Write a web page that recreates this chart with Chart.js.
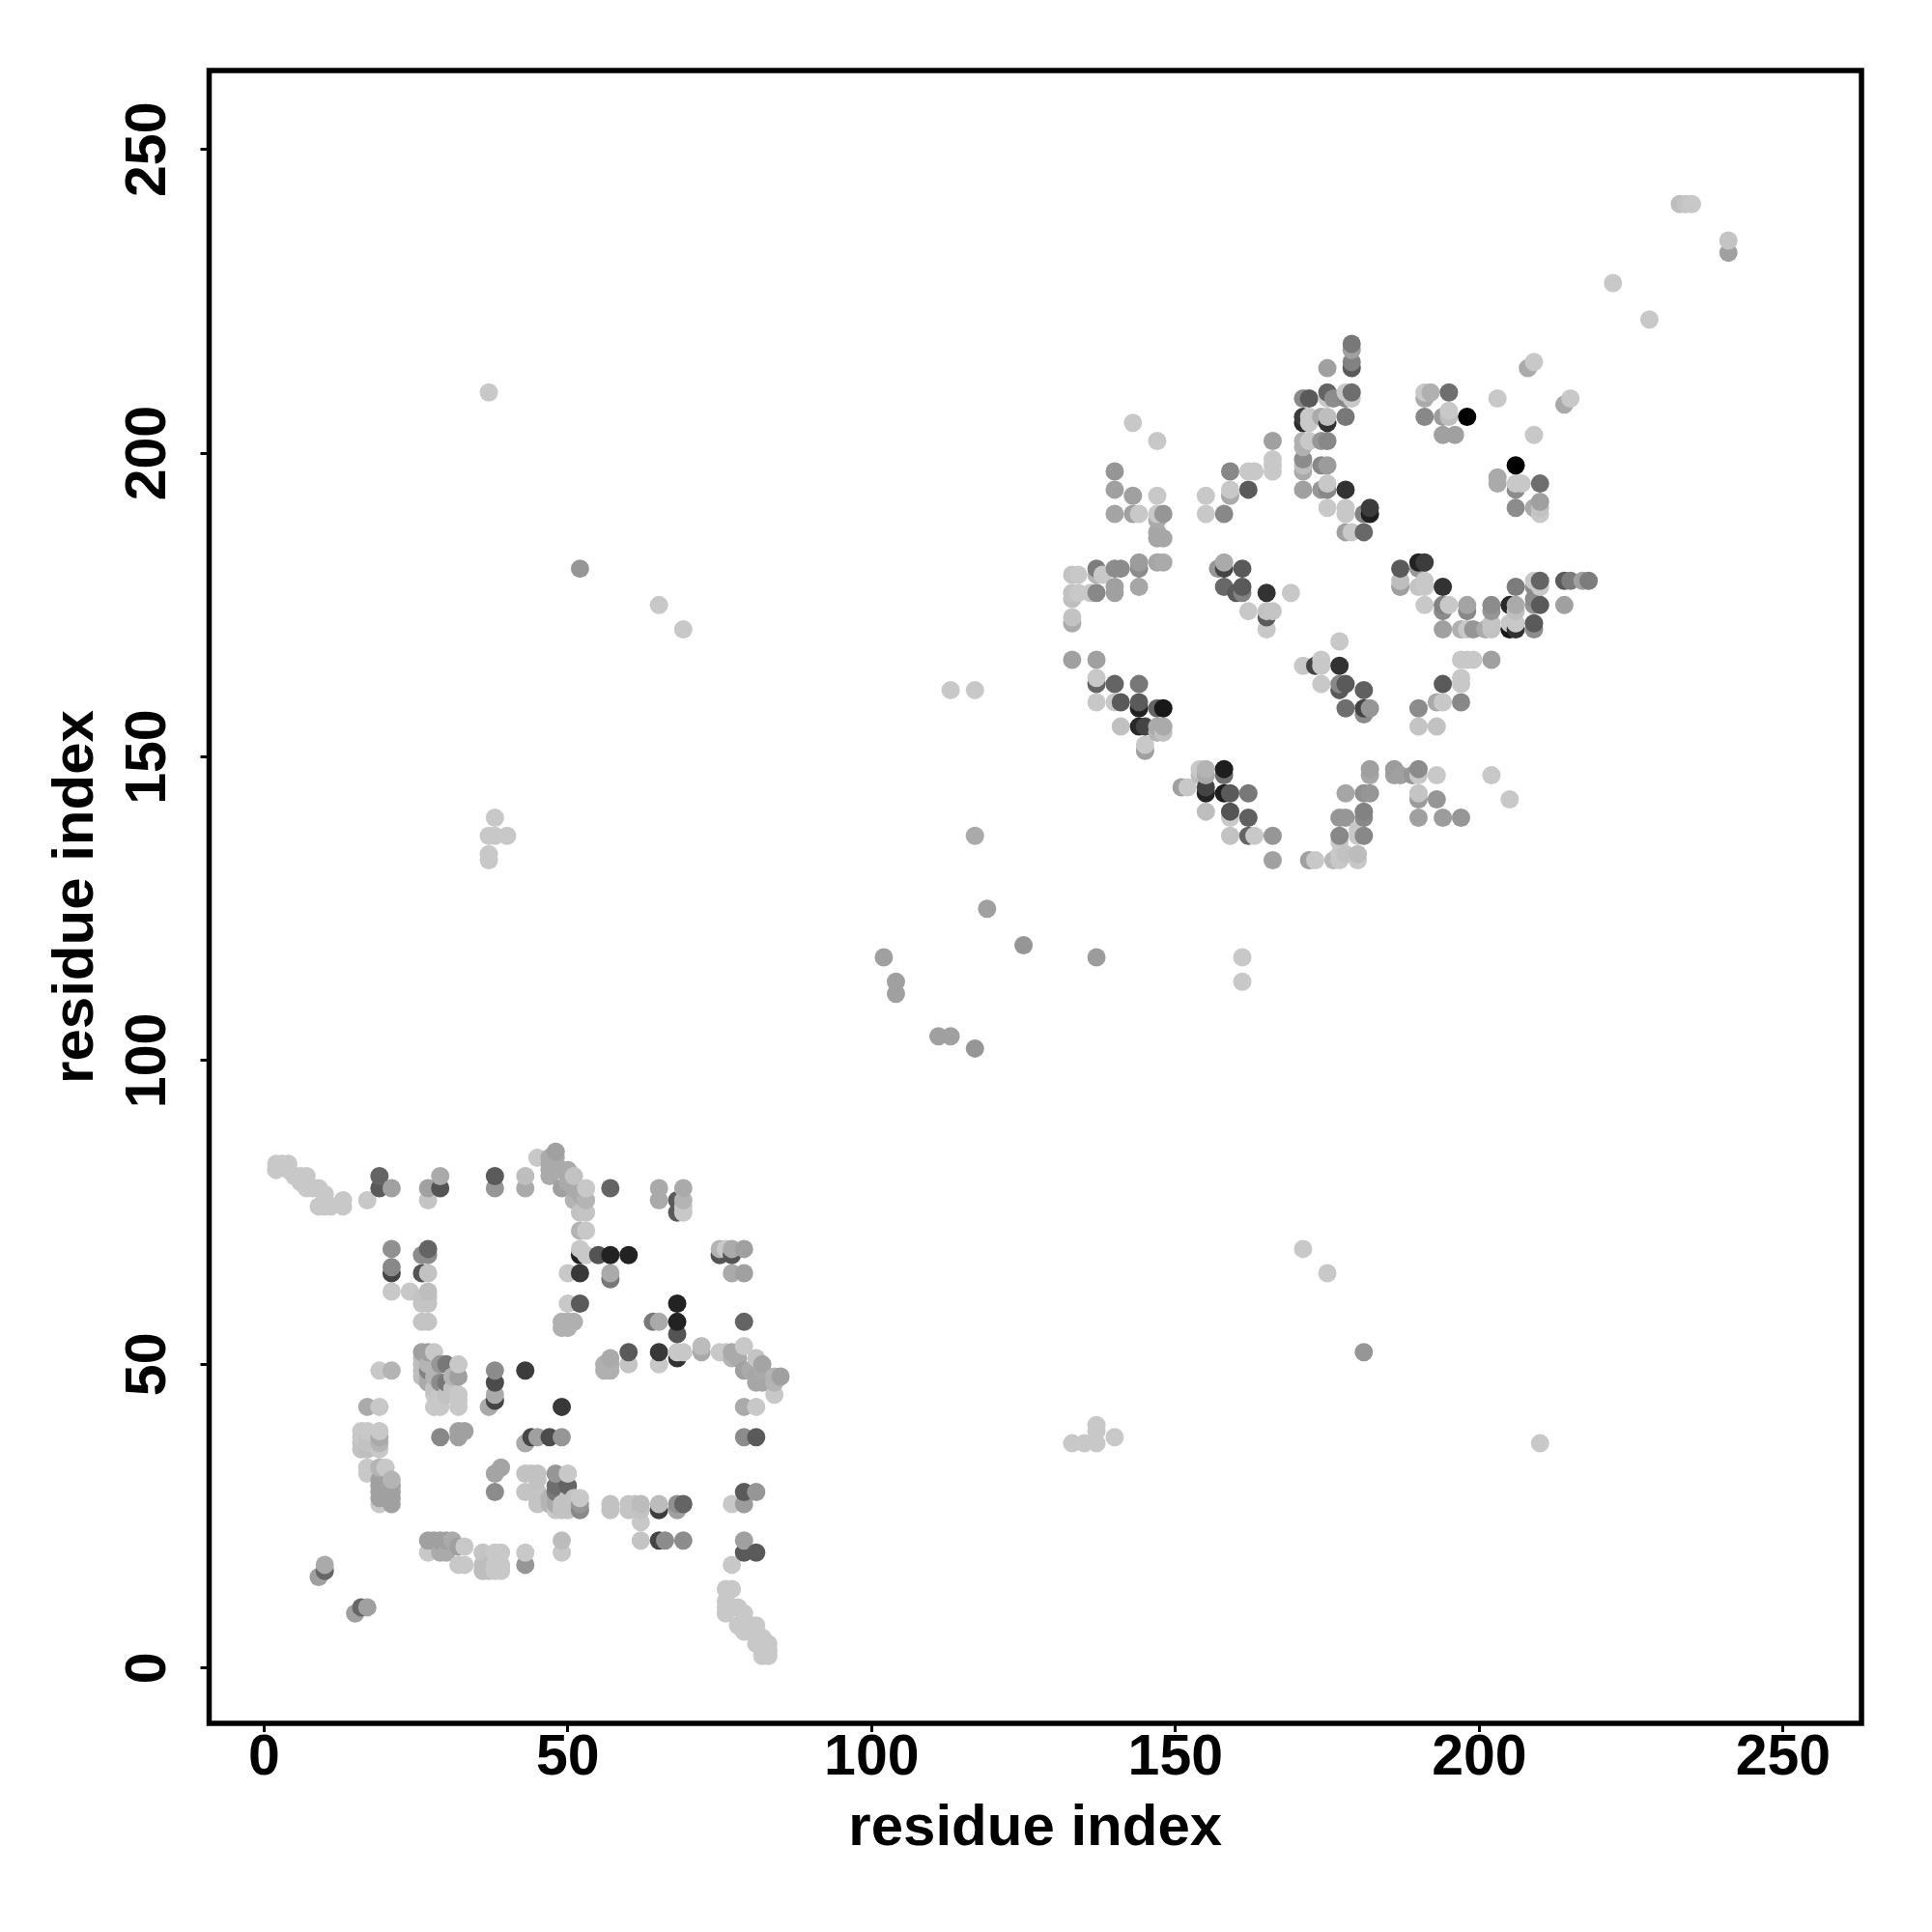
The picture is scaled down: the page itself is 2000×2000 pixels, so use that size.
<!DOCTYPE html>
<html>
<head>
<meta charset="utf-8">
<title>residue contacts</title>
<script src="https://cdn.jsdelivr.net/npm/chart.js@4/dist/chart.umd.min.js"></script>
<style>
  html, body { margin: 0; background: #fff; }
  canvas { display: block; }
</style>
</head>
<body>
<canvas id="contactChart" width="2000" height="2000"></canvas>
<script>
const axisTitle = "residue index";
const tickValues = [0, 50, 100, 150, 200, 250];

// one row per residue i: the residues j it touches, and how strong each contact is (0 weak .. 1 strong)
const residueI = [
  2, 3, 4, 5, 6, 7, 8, 9, 10, 11, 13, 15, 16, 17, 19, 20, 21, 24, 26, 27,
  28, 29, 30, 31, 32, 33, 36, 37, 38, 39, 40, 43, 44, 45, 47, 48, 49, 50, 51, 52,
  53, 55, 56, 57, 60, 61, 62, 64, 65, 66, 68, 69, 72, 75, 76, 77, 78, 79, 80, 81,
  82, 83, 84, 85,
  102, 104, 111, 113, 117, 119, 125,
  133, 134, 135, 136, 137, 138, 140, 141, 143, 144, 145, 147, 148, 151, 152, 154, 155, 157, 158, 159,
  160, 161, 162, 163, 165, 166, 169, 171, 172, 173, 174, 175, 176, 177, 178, 179, 180, 181, 182,
  186, 187, 189, 190, 191, 192, 193, 194, 195, 196, 197, 198, 199, 201, 202, 203, 205, 206, 207, 208,
  209, 210, 214, 215, 217, 218, 222, 228, 233, 234, 235, 241
];

const residueJ = [
  [83, 82], [83], [83, 82], [81], [81, 80], [81, 79], [79], [79, 76, 15], [78, 76, 77, 16, 17], [76],
  [77, 76], [9], [10, 39, 38, 37, 36], [77, 10, 43, 39, 38, 37, 36, 33, 32],
  [27, 28, 29, 30, 31, 33, 36, 37, 38, 39, 43, 49, 79, 81], [33], [27, 28, 29, 30, 31, 49, 62, 65, 66, 69, 79], [62],
  [48, 49, 50, 51, 52, 57, 60, 61, 65, 68], [19, 21, 47, 48, 52, 57, 60, 61, 62, 65, 68, 69, 77, 79, 49, 50],
  [21, 43, 45, 46, 48, 52], [19, 21, 38, 43, 45, 47, 50, 79, 81], [19, 21, 45, 47, 50], [21, 46, 48],
  [17, 20, 38, 39, 43, 44, 45, 48, 50], [17, 20, 39], [16, 17, 19], [16, 17, 43, 133, 134, 137, 210],
  [16, 17, 19, 29, 32, 44, 45, 47, 49, 79, 81, 137, 140], [16, 17, 19, 33], [137],
  [17, 19, 29, 32, 37, 49, 79, 81], [29, 32, 38], [27, 28, 29, 31, 32, 38, 84],
  [27, 28, 38, 81, 82, 83, 84], [26, 27, 28, 29, 30, 32, 82, 84, 85], [19, 21, 26, 27, 38, 43, 56, 57, 79, 82],
  [26, 28, 30, 32, 56, 57, 60, 65, 80, 82], [28, 57, 77, 79, 81], [26, 27, 28, 60, 65, 68, 69, 72, 75, 78, 181],
  [68, 72, 75, 77, 79], [68], [49, 50], [26, 27, 49, 50, 51, 64, 65, 68, 79], [26, 27, 50, 52, 68], [27],
  [21, 24, 26, 27], [57], [21, 26, 27, 50, 52, 57, 77, 79, 175], [21],
  [26, 27, 51, 52, 55, 57, 60, 75, 77], [21, 27, 52, 75, 76, 77, 79, 171], [52, 53], [52, 68, 69],
  [9, 10, 11, 13, 52, 69], [10, 13, 17, 27, 51, 52, 65, 68, 69], [7, 10, 51],
  [6, 8, 9, 19, 21, 27, 29, 38, 43, 49, 53, 57, 65, 69], [6, 7, 49], [4, 7, 19, 29, 38, 43, 47, 48, 51],
  [2, 3, 5, 47, 49, 50], [2, 3, 4], [45, 47, 48], [48],
  [117], [111, 113], [104], [104, 161], [102, 161, 137], [125], [119],
  [37, 166, 172, 173, 176, 177, 180], [177, 180], [37], [177],
  [37, 39, 40, 117, 159, 162, 163, 166, 177, 180, 181], [180], [38, 159, 162, 177, 178, 181, 190, 194, 197],
  [155, 159, 181], [190, 193, 205], [155, 158, 159, 162, 178, 181, 182, 190], [151, 152, 155],
  [154, 155, 158, 182, 186, 187, 189, 190, 193, 202], [154, 155, 158, 182, 186, 190], [145], [145],
  [147, 148], [141, 144, 145, 147, 148, 190, 193], [181], [144, 147, 148, 178, 181, 182, 190],
  [137, 140, 141, 144, 193, 194, 197],
  [177], [113, 117, 177, 178, 181], [137, 140, 144, 174, 194, 197], [137, 197], [171, 173, 174, 177],
  [133, 137, 174, 197, 198, 199, 202], [177], [69, 165, 194, 197, 198, 199, 201, 202, 205, 206, 209],
  [133, 202, 205, 206, 209], [133, 165], [162, 165, 166, 194, 198, 202, 206],
  [65, 191, 194, 195, 198, 202, 205, 206, 209, 210, 214], [133, 209],
  [133, 134, 136, 137, 140, 161, 162, 165, 169], [134, 140, 144, 158, 162, 187, 190, 191, 194, 206, 209, 210],
  [187, 209, 210, 214, 215, 217, 218], [133, 134, 137, 138],
  [52, 137, 140, 141, 144, 157, 158, 161, 187, 190], [144, 147, 148, 158, 190, 191],
  [147, 148], [147, 178, 179, 181], [147], [140, 143, 144, 147, 148, 155, 158, 178, 181, 182],
  [175, 178, 179, 182, 206, 209, 210], [210], [143, 147, 155, 159], [140, 159, 162, 171, 174, 175, 178, 203, 206],
  [175, 206, 207, 210], [203], [140, 159, 162, 163, 166, 171], [166, 171, 174, 175, 206], [166, 171], [171],
  [147, 166, 171, 172, 174, 175], [195, 196, 209], [143, 171, 172, 175], [171, 172, 174, 175, 178, 191, 194, 195, 198],
  [195], [214],
  [171, 172, 175, 176, 178, 179, 191, 203, 215], [37, 175, 178, 179, 190, 191, 192, 195], [175, 179, 208], [179, 209],
  [179], [179], [228], [222], [241], [241], [241], [233, 235]
];

const contactStrength = [
  [0, 0], [0], [0, 0], [0], [0, 0], [0, 0], [0], [0, 0, .2], [0, 0, 0, .49, .15], [0],
  [0, 0], [.2], [.49, 0, 0, .03, .03], [0, .2, .15, 0, .03, .03, .05, 0, 0],
  [0, .2, .2, .2, .2, .1, 0, .1, .15, 0, 0, 0, .55, .5], [0], [.2, .2, .2, .2, .1, .1, 0, .66, .32, .28, .2], [0],
  [.05, .05, .05, .05, .2, .02, .02, .02, .58, .3], [0, .2, .15, .15, .2, .02, .02, .02, .05, .03, .3, .5, .02, .2, .35, .1],
  [.2, 0, 0, .03, .1, 0], [.15, .2, .32, 0, 0, .3, .25, .58, .15], [.15, .2, .03, .4, .4], [.15, .03, .1],
  [0, .2, .2, .2, 0, 0, 0, .2, 0], [0, 0, .2], [.05, .05, .02], [.05, .05, .15, 0, 0, 0, 0],
  [0, 0, 0, .3, .18, .66, .15, .62, .3, .25, .55, 0, 0], [0, 0, 0, .18], [0],
  [.25, 0, .02, .03, .15, .7, .15, .05], [.02, .03, .65], [.02, .02, .02, .03, .03, .2, 0],
  [.1, .1, .62, .15, .15, .15, .15], [0, .15, .15, .4, .45, .25, .15, .15, .2], [0, .06, .03, .03, .25, .72, .12, .12, .2, .15],
  [.03, .03, .5, 0, .12, .12, 0, 0, .15, .15], [.03, .12, .1, .15, .03], [.32, .25, 0, .55, .72, .83, 0, .1, .03, .15, .25],
  [0, 0, .02, .1, 0], [.58], [.12, .12], [.03, .03, .12, .12, .15, .4, .15, .83, .5], [.02, .02, .02, .55, .83], [.02],
  [.02, 0, .03, .06], [.4], [.66, .7, .06, 0, .72, .15, .15, .15, 0], [.3],
  [.2, .28, .75, 0, .58, .83, .83, .55, .55], [.3, .5, 0, 0, 0, .1, .15, 0], [.15, .06], [0, .58, .1],
  [0, 0, 0, 0, 0, 0], [0, 0, 0, 0, .1, .15, .15, .58, .15], [0, 0, .15],
  [0, 0, 0, .55, .2, .22, .55, .3, .15, .2, 0, .5, .2, .2], [0, 0, .15], [0, 0, .55, .25, .55, 0, .17, .17, .02],
  [0, 0, 0, .17, .15, .18], [0, 0, 0], [0, .1, .1], [.2],
  [.2], [.2, .2], [.2], [.2, 0], [.25, 0, .15], [.2], [.25],
  [0, .2, .15, .03, .05, .03, .03], [0, 0], [0], [0],
  [0, 0, 0, .22, 0, .5, 0, .2, .32, .1, .38], [0], [0, 0, .5, .2, .2, .3, .18, .2, .25],
  [.04, .55, .3], [.2, .2, 0], [.8, .83, .55, .4, .17, .3, .22, 0], [.2, 0, .66],
  [.1, .15, .5, .17, .17, .17, .15, 0, 0, 0], [.04, .15, .88, .15, .17, .25], [.2], [0],
  [.05, 0], [.05, .83, .66, .15, .1, 0, 0], [.25], [.85, .45, .85, .48, .66, .15, .32],
  [.03, 0, .58, .55, .15, 0, .32],
  [.55], [0, 0, .35, .55, .55], [.5, .52, .4, 0, .55, 0], [0, 0], [0, .55, .03, .75],
  [.2, .25, .02, 0, 0, 0, .2], [0], [0, 0, .2, .15, .05, .3, .12, .12, .78, .7, .32],
  [.2, 0, 0, 0, .55], [0, .66], [0, 0, 0, .25, .32, .25, .15],
  [0, 0, .32, 0, .22, .32, .75, .05, 0, .5, .2], [.08, .3],
  [0, 0, 0, .32, .25, .55, .32, .75, 0], [.03, .25, .17, .45, .55, .2, 0, 0, .75, .4, .32, 0],
  [0, 0, .45, .55, .35, .2, .4], [0, .06, 0, 0],
  [.25, .32, .32, .35, .28, .3, .66, .52, .48, .35], [.25, .17, .2, .25, .85, .7],
  [.2, .22], [.2, .2, .05, .55], [.25], [.2, .22, .02, 0, .3, .02, .3, .02, .25, .83],
  [0, 0, 0, .7, .32, .15, 0], [.12], [.25, 0, .03, .15], [.22, 0, .55, .2, .3, .35, .75, .2, .22],
  [0, .05, 0, .45], [.2], [.25, .32, 0, 0, 0, .12], [0, 0, .32, .18, 1], [0, .25], [.15],
  [0, .2, .03, .02, .25, .3], [.15, .15, 0], [0, .88, 0, .8], [.75, 0, .05, .15, .38, .3, .3, 0, 1],
  [0], [.15],
  [.3, .55, .25, .3, .3, 0, .15, 0, 0], [0, .55, 0, .5, 0, .03, .2, .45], [.2, .55, .15], [.38, 0],
  [.2], [.38], [0], [0], [.05], [.02], [0], [.2, .02]
];

const contactPoints = [];
residueI.forEach((i, row) => {
  residueJ[row].forEach((j, k) => {
    contactPoints.push({ x: i, y: j, strength: contactStrength[row][k] });
  });
});
// later residues sit on top of earlier ones, same as the original drawing order
contactPoints.sort((a, b) => a.x - b.x || a.y - b.y);

function strengthToGray(strength) {
  const g = Math.round(200 * (1 - strength));
  return `rgb(${g}, ${g}, ${g})`;
}

const frameBox = {
  id: "frameBox",
  afterDatasetsDraw(chart) {
    const { ctx, chartArea } = chart;
    ctx.save();
    ctx.strokeStyle = "#000";
    ctx.lineWidth = 5.5;
    ctx.strokeRect(chartArea.left, chartArea.top, chartArea.width, chartArea.height);
    ctx.restore();
  },
};

const tickFont = { family: "'Liberation Sans'", size: 59, weight: "bold", lineHeight: 1.2 };
const titleFont = { family: "'Liberation Sans'", size: 60, weight: "bold", lineHeight: 1.2 };

function useTickValues(scale) {
  scale.ticks = tickValues.map((v) => ({ value: v }));
}

new Chart(document.getElementById("contactChart").getContext("2d"), {
  type: "scatter",
  data: {
    datasets: [
      {
        data: contactPoints,
        pointRadius: 9.5,
        pointBorderWidth: 0,
        pointBackgroundColor: contactPoints.map((p) => strengthToGray(p.strength)),
      },
    ],
  },
  options: {
    responsive: false,
    animation: false,
    layout: { padding: { top: 73, right: 73 } },
    plugins: { legend: { display: false }, tooltip: { enabled: false } },
    scales: {
      x: {
        type: "linear",
        min: -9.03,
        max: 262.9,
        afterBuildTicks: useTickValues,
        afterFit(scale) { scale.height = 216; },
        border: { display: false },
        grid: { drawOnChartArea: false, tickLength: 9, tickWidth: 3, tickColor: "#000" },
        ticks: { color: "#000", font: tickFont, padding: -8, minRotation: 0, maxRotation: 0, autoSkip: false },
        title: { display: true, text: axisTitle, color: "#000", font: titleFont, padding: { top: 0, bottom: 70.5 } },
      },
      y: {
        type: "linear",
        min: -9.1,
        max: 263,
        afterBuildTicks: useTickValues,
        afterFit(scale) { scale.width = 216.5; },
        border: { display: false },
        grid: { drawOnChartArea: false, tickLength: 9, tickWidth: 3, tickColor: "#000" },
        ticks: { color: "#000", font: tickFont, padding: 4, minRotation: 90, maxRotation: 90, crossAlign: "center", autoSkip: false },
        title: { display: true, text: axisTitle, color: "#000", font: titleFont, padding: { top: 43, bottom: 0 } },
      },
    },
  },
  plugins: [frameBox],
});
</script>
</body>
</html>
